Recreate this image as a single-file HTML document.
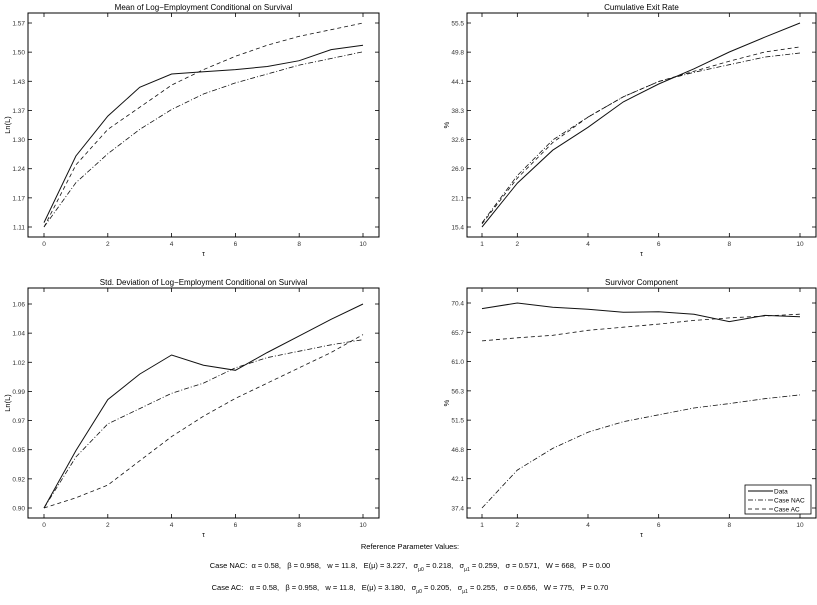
<!DOCTYPE html>
<html><head><meta charset="utf-8"><style>
body{margin:0;background:#fff;width:817px;height:600px;overflow:hidden}
svg{font-family:"Liberation Sans",sans-serif}
.cap text{white-space:pre}
</style></head><body>
<svg id="c" width="817" height="600" viewBox="0 0 817 600" xmlns="http://www.w3.org/2000/svg">
<g id="plots"></g>
<g class="cap" font-size="7.5" fill="#000" text-anchor="middle" xml:space="preserve">
<text x="410" y="549">Reference Parameter Values:</text>
<text x="410" y="568">Case NAC:  α = 0.58,   β = 0.958,   w = 11.8,   E(μ) = 3.227,   σ<tspan font-size="5" dy="3">μ0</tspan><tspan dy="-3"> = 0.218,   σ</tspan><tspan font-size="5" dy="3">μ1</tspan><tspan dy="-3"> = 0.259,   σ = 0.571,   W = 668,   P = 0.00</tspan></text>
<text x="410" y="590">Case AC:   α = 0.58,   β = 0.958,   w = 11.8,   E(μ) = 3.180,   σ<tspan font-size="5" dy="3">μ0</tspan><tspan dy="-3"> = 0.205,   σ</tspan><tspan font-size="5" dy="3">μ1</tspan><tspan dy="-3"> = 0.255,   σ = 0.656,   W = 775,   P = 0.70</tspan></text>
</g>
</svg>
<script>
// Panel 1: mean log-employment
const meanX=[0,1,2,3,4,5,6,7,8,9,10];
const meanData=[1.12,1.27,1.36,1.425,1.455,1.46,1.465,1.472,1.485,1.51,1.52];
const meanNAC=[1.11,1.21,1.275,1.33,1.375,1.41,1.435,1.455,1.475,1.49,1.505];
const meanAC=[1.11,1.25,1.33,1.38,1.43,1.465,1.495,1.52,1.54,1.555,1.57];
const meanYTicks=["1.11","1.17","1.24","1.30","1.37","1.43","1.50","1.57"];
const meanXTicks=[0,2,4,6,8,10];
// Panel 2: cumulative exit rate
const exitX=[1,2,3,4,5,6,7,8,9,10];
const exitData=[15.4,24,30.5,35,40,43.5,46.5,49.8,52.7,55.5];
const exitNAC=[16.2,25.5,32.5,37,41,44,45.8,47.3,48.8,49.6];
const exitAC=[16,25,32,37,41,44,46,48,49.8,50.8];
const exitYTicks=["15.4","21.1","26.9","32.6","38.3","44.1","49.8","55.5"];
const exitXTicks=[1,2,4,6,8,10];
// Panel 3: std dev
const sdX=[0,1,2,3,4,5,6,7,8,9,10];
const sdData=[0.90,0.945,0.985,1.005,1.02,1.012,1.008,1.022,1.035,1.048,1.06];
const sdNAC=[0.90,0.94,0.966,0.978,0.99,0.998,1.01,1.018,1.023,1.028,1.032];
const sdAC=[0.90,0.908,0.918,0.937,0.956,0.972,0.986,0.998,1.01,1.022,1.036];
const sdYTicks=["0.90","0.92","0.95","0.97","0.99","1.02","1.04","1.06"];
const sdXTicks=[0,2,4,6,8,10];
// Panel 4: survivor component
const survX=[1,2,3,4,5,6,7,8,9,10];
const survData=[69.5,70.4,69.7,69.4,68.9,69.0,68.6,67.4,68.4,68.2];
const survNAC=[37.4,43.5,47.0,49.6,51.3,52.4,53.5,54.2,55.0,55.6];
const survAC=[64.3,64.8,65.2,66.0,66.5,67.0,67.6,68.0,68.3,68.6];
const survYTicks=["37.4","42.1","46.8","51.5","56.3","61.0","65.7","70.4"];
const survXTicks=[1,2,4,6,8,10];

const NS="http://www.w3.org/2000/svg";
const root=document.getElementById('plots');
function mk(tag,attrs,parent){const e=document.createElementNS(NS,tag);for(const k in attrs)e.setAttribute(k,attrs[k]);parent.appendChild(e);return e;}
const styles={data:{dash:"none",w:1.0},nac:{dash:"5 2 1 2",w:0.8},ac:{dash:"4 3",w:0.8}};

function panel(p){
  const g=mk('g',{},root);
  
  
  const {l,r,t,b,yt0,yt1,x0,x1}=p.box;
  const ymin=parseFloat(p.yTicks[0]),ymax=parseFloat(p.yTicks[p.yTicks.length-1]);
  const sx=v=>x0+(v-p.xDom[0])/(p.xDom[1]-p.xDom[0])*(x1-x0);
  const sy=v=>yt0+(v-ymin)/(ymax-ymin)*(yt1-yt0);
  const fr=mk('rect',{x:l,y:t,width:r-l,height:b-t,fill:'none',stroke:'#000','stroke-width':1},g);
  
  
  const tt=mk('text',{x:(l+r)/2,y:t-3,'font-size':8,'text-anchor':'middle'},g);tt.textContent=p.title;
  
  
  const n=p.yTicks.length;
  p.yTicks.forEach((lab,i)=>{
    const y=yt0+(yt1-yt0)*i/(n-1);
    mk('line',{x1:l,x2:l+4,y1:y,y2:y,stroke:'#000','stroke-width':0.8},g);
    mk('line',{x1:r,x2:r-4,y1:y,y2:y,stroke:'#000','stroke-width':0.8},g);
    const tx=mk('text',{x:l-3,y:y+2.5,'font-size':6.5,'text-anchor':'end',fill:'#333'},g);tx.textContent=lab;
    
    
  });
  p.xTicks.forEach(v=>{
    const x=sx(v);
    mk('line',{x1:x,x2:x,y1:b,y2:b-4,stroke:'#000','stroke-width':0.8},g);
    mk('line',{x1:x,x2:x,y1:t,y2:t+4,stroke:'#000','stroke-width':0.8},g);
    const tx=mk('text',{x:x,y:b+9,'font-size':6.5,'text-anchor':'middle',fill:'#333'},g);tx.textContent=v;
    
    
  });
  const xl=mk('text',{x:(l+r)/2,y:b+19,'font-size':7,'text-anchor':'middle'},g);xl.textContent='τ';
  
  
  const yl=mk('text',{x:0,y:0,'font-size':7.5,'text-anchor':'middle',transform:`translate(${l-18},${(t+b)/2}) rotate(-90)`},g);yl.textContent=p.ylab;
  
  
  p.series.forEach(s=>{
    const st=styles[s.k];
    const d=s.v.map((v,i)=>(i?'L':'M')+sx(p.x[i]).toFixed(1)+','+sy(v).toFixed(1)).join('');
    const pa=mk('path',{d:d,fill:'none',stroke:'#111','stroke-width':st.w,'stroke-dasharray':st.dash},g);
    
    
  });
}
panel({name:'mean-panel',title:'Mean of Log−Employment Conditional on Survival',ylab:'Ln(L)',box:{l:28,r:379,t:13,b:237,yt0:227,yt1:23,x0:44,x1:363},xDom:[0,10],x:meanX,yTicks:meanYTicks,xTicks:meanXTicks,series:[{k:'data',v:meanData},{k:'nac',v:meanNAC},{k:'ac',v:meanAC}]});
panel({name:'exit-panel',title:'Cumulative Exit Rate',ylab:'%',box:{l:467,r:816,t:13,b:237,yt0:227,yt1:23,x0:482,x1:800},xDom:[1,10],x:exitX,yTicks:exitYTicks,xTicks:exitXTicks,series:[{k:'data',v:exitData},{k:'nac',v:exitNAC},{k:'ac',v:exitAC}]});
panel({name:'sd-panel',title:'Std. Deviation of Log−Employment Conditional on Survival',ylab:'Ln(L)',box:{l:28,r:379,t:288,b:518,yt0:508,yt1:304,x0:44,x1:363},xDom:[0,10],x:sdX,yTicks:sdYTicks,xTicks:sdXTicks,series:[{k:'data',v:sdData},{k:'nac',v:sdNAC},{k:'ac',v:sdAC}]});
panel({name:'survivor-panel',title:'Survivor Component',ylab:'%',box:{l:467,r:816,t:288,b:518,yt0:508,yt1:303,x0:482,x1:800},xDom:[1,10],x:survX,yTicks:survYTicks,xTicks:survXTicks,series:[{k:'data',v:survData},{k:'nac',v:survNAC},{k:'ac',v:survAC}]});

// legend
const lg=mk('g',{},root);


mk('rect',{x:745,y:485,width:66,height:29,fill:'#fff',stroke:'#000','stroke-width':0.8},lg);
[['data','Data'],['nac','Case NAC'],['ac','Case AC']].forEach((e,i)=>{
  const y=491+i*9;const st=styles[e[0]];
  mk('line',{x1:748,x2:773,y1:y,y2:y,stroke:'#000','stroke-width':st.w,'stroke-dasharray':st.dash},lg);
  const tx=mk('text',{x:774,y:y+2.5,'font-size':6.5},lg);tx.textContent=e[1];
  
  
});
</script>
</body></html>
